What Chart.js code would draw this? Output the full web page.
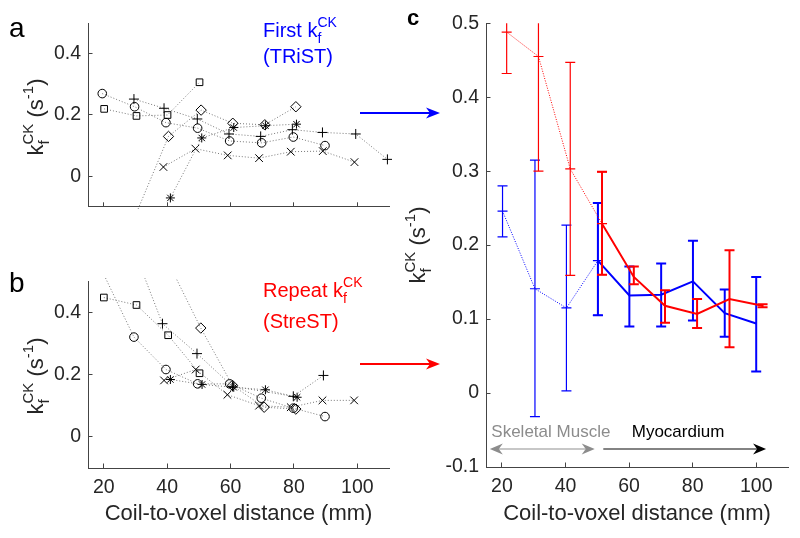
<!DOCTYPE html>
<html>
<head>
<meta charset="utf-8">
<script src="https://cdn.jsdelivr.net/npm/chart.js@4.4.1/dist/chart.umd.min.js"></script>
<style>
  body { margin: 0; background: #fff; }
  #wrap { position: relative; width: 800px; height: 538px; overflow: hidden; font-family: "Liberation Sans", Arial, sans-serif; color: #262626; }
  .box { position: absolute; }
  .txt { position: absolute; white-space: nowrap; line-height: 1; }
  .ylab { position: absolute; white-space: nowrap; font-size: 22px; line-height: 1; transform: translate(-50%, -50%) rotate(-90deg); }
  .sb { font-size: 15px; position: relative; top: 6px; }
  .sp { font-size: 15px; position: relative; top: -10px; margin-left: -4.2px; }
  .sp2 { font-size: 15px; position: relative; top: -10px; }
</style>
</head>
<body>
<div id="wrap">
  <div class="box" style="left:0;top:0;width:400px;height:230px"><canvas id="ca" width="400" height="230"></canvas></div>
  <div class="box" style="left:0;top:230px;width:400px;height:308px"><canvas id="cb" width="400" height="308"></canvas></div>
  <div class="box" style="left:400px;top:0;width:400px;height:538px"><canvas id="cc" width="400" height="538"></canvas></div>

  <svg class="box" style="left:0;top:0" width="800" height="538">
    <line x1="360" y1="113" x2="430" y2="113" stroke="#0000ff" stroke-width="2"/>
    <path d="M440,113 L426,107.5 L430,113 L426,118.5 Z" fill="#0000ff"/>
    <line x1="360" y1="364" x2="430" y2="364" stroke="#ff0000" stroke-width="2"/>
    <path d="M440,364 L426,358.5 L430,364 L426,369.5 Z" fill="#ff0000"/>
  </svg>

  <div class="txt" style="left:9px;top:14px;font-size:28px;color:#000">a</div>
  <div class="txt" style="left:9px;top:269px;font-size:28px;color:#000">b</div>
  <div class="txt" style="left:407px;top:7px;font-size:22px;font-weight:bold;color:#000">c</div>

  <div class="ylab" style="left:36px;top:117px">k<span class="sb">f</span><span class="sp">CK</span> (s<span class="sp2">-1</span>)</div>
  <div class="ylab" style="left:36px;top:376px">k<span class="sb">f</span><span class="sp">CK</span> (s<span class="sp2">-1</span>)</div>
  <div class="ylab" style="left:418px;top:245px">k<span class="sb">f</span><span class="sp">CK</span> (s<span class="sp2">-1</span>)</div>

  <div class="txt" style="left:263px;top:20px;font-size:20px;color:#0000ff">First k<span class="sb" style="font-size:14px">f</span><span class="sp" style="font-size:14px;margin-left:-3.9px">CK</span></div>
  <div class="txt" style="left:263px;top:45.5px;font-size:20px;color:#0000ff">(TRiST)</div>
  <div class="txt" style="left:263px;top:280px;font-size:20px;color:#ff0000">Repeat k<span class="sb" style="font-size:14px">f</span><span class="sp" style="font-size:14px;margin-left:-3.9px">CK</span></div>
  <div class="txt" style="left:263px;top:311px;font-size:20px;color:#ff0000">(StreST)</div>
</div>

<script>
const FONT = '"Liberation Sans", Arial, Helvetica, sans-serif';

// shared ticks
const xTicks = [20, 40, 60, 80, 100];
const yTicksAB = [0, 0.2, 0.4];
const yTicksC = [-0.1, 0, 0.1, 0.2, 0.3, 0.4, 0.5];

// panel a - first kf (TRiST), one series per subject
const aCircleX = [19.5, 29.7, 39.6, 49.6, 59.7, 69.8, 79.8, 89.8];
const aCircleY = [0.27, 0.227, 0.175, 0.157, 0.115, 0.109, 0.128, 0.10];
const aSquareX = [20.1, 30.3, 40.1, 50.2];
const aSquareY = [0.22, 0.197, 0.2, 0.307];
const aPlusX = [29.5, 39, 49.5, 59.5, 69.5, 79.5, 89, 99.5, 109.5];
const aPlusY = [0.252, 0.222, 0.187, 0.138, 0.13, 0.152, 0.143, 0.138, 0.055];
const aDiamondX = [20.6, 40.4, 50.7, 60.7, 70.8, 80.6];
const aDiamondY = [-0.36, 0.13, 0.216, 0.173, 0.168, 0.227];
const aStarX = [41, 50.9, 61, 71, 80.8];
const aStarY = [-0.071, 0.125, 0.159, 0.165, 0.17];
const aCrossX = [38.8, 48.9, 59.1, 69, 79, 89.1, 99.1];
const aCrossY = [0.03, 0.09, 0.068, 0.059, 0.08, 0.082, 0.046];

// panel b - repeat kf (StreST)
const bCircleX = [19.7, 29.5, 39.6, 49.6, 59.7, 69.7, 79.8, 89.8];
const bCircleY = [0.527, 0.32, 0.216, 0.17, 0.17, 0.124, 0.092, 0.065];
const bSquareX = [20, 30.3, 40.3, 50.2];
const bSquareY = [0.447, 0.423, 0.326, 0.204];
const bPlusX = [29.5, 38.5, 49.4, 60.6, 79.8, 89.3];
const bPlusY = [0.6, 0.363, 0.267, 0.162, 0.13, 0.197];
const bDiamondX = [40.5, 50.6, 60.6, 70.6, 80.6];
const bDiamondY = [0.556, 0.349, 0.165, 0.095, 0.089];
const bStarX = [41, 51, 61, 71, 81];
const bStarY = [0.184, 0.168, 0.159, 0.151, 0.127];
const bCrossX = [39, 49, 59, 69, 79, 89, 99];
const bCrossY = [0.181, 0.216, 0.135, 0.1, 0.095, 0.117, 0.117];

// panel c - group mean with error bars
const blueX = [20.2, 30.4, 40.3, 50.2, 60.1, 70.1, 80.1, 90.1, 100];
const blueY = [0.246, 0.141, 0.115, 0.179, 0.132, 0.133, 0.151, 0.108, 0.094];
const blueLo = [0.211, -0.032, 0.003, 0.105, 0.09, 0.09, 0.098, 0.076, 0.029];
const blueHi = [0.28, 0.315, 0.227, 0.257, 0.171, 0.175, 0.206, 0.14, 0.157];
const redX = [21.5, 31.5, 41.5, 51.5, 61.5, 71.3, 81.4, 91.6, 102];
const redY = [0.488, 0.455, 0.303, 0.229, 0.157, 0.118, 0.107, 0.127, 0.118];
const redLo = [0.432, 0.300, 0.159, 0.16, 0.147, 0.095, 0.088, 0.062, 0.116];
const redHi = [0.544, 0.61, 0.447, 0.299, 0.171, 0.139, 0.127, 0.193, 0.120];

function pts(xs, ys) {
    return xs.map((x, i) => ({ x: x, y: ys[i] }));
}

// one subject: black hollow markers joined by a grey dotted line
function subject(xs, ys, style, r) {
    return {
        data: pts(xs, ys),
        showLine: true,
        borderColor: '#777',
        borderWidth: 1,
        borderDash: [1, 2],
        pointStyle: style,
        pointRadius: r,
        pointBorderColor: '#000',
        pointBackgroundColor: 'rgba(0,0,0,0)',
        pointBorderWidth: 1,
        clip: 3
    };
}

function xAxis(labels, h) {
    return {
        type: 'linear', min: 15, max: 110,
        afterBuildTicks: s => { s.ticks = xTicks.map(v => ({ value: v })); },
        afterFit: s => { s.height = h; },
        grid: { drawOnChartArea: false, color: '#444', tickLength: -4.5 },
        border: { color: '#444' },
        ticks: { display: labels, color: '#262626', font: { family: FONT, size: 19.5 }, padding: 12, maxRotation: 0, autoSkip: false },
        title: { display: labels, text: 'Coil-to-voxel distance (mm)', color: '#262626', font: { family: FONT, size: 22 }, padding: { top: 0, bottom: 11 } }
    };
}

function yAxis(min, max, ticks, w) {
    return {
        type: 'linear', min: min, max: max,
        afterBuildTicks: s => { s.ticks = ticks.map(v => ({ value: v })); },
        afterFit: s => { s.width = w; },
        grid: { drawOnChartArea: false, color: '#444', tickLength: -4.5 },
        border: { color: '#444' },
        ticks: { color: '#262626', font: { family: FONT, size: 19.5 }, padding: 11.5,
                 callback: v => String(Math.round(v * 10) / 10) }
    };
}

// vertical error bars with caps, drawn right after their own line
const errorBars = {
    id: 'errorBars',
    afterDatasetDraw(chart, args) {
        const ds = chart.data.datasets[args.index];
        if (!ds.errLo) return;
        const xs = chart.scales.x, ys = chart.scales.y, ctx = chart.ctx, a = chart.chartArea;
        ctx.save();
        ctx.beginPath();
        ctx.rect(a.left, a.top, a.right - a.left, a.bottom - a.top);
        ctx.clip();
        ctx.strokeStyle = ds.borderColor;
        ctx.lineWidth = ds.errWidth;
        ctx.setLineDash([]);
        ds.data.forEach((p, i) => {
            const px = xs.getPixelForValue(p.x);
            const lo = ys.getPixelForValue(ds.errLo[i]);
            const hi = ys.getPixelForValue(ds.errHi[i]);
            ctx.beginPath();
            ctx.moveTo(px, lo); ctx.lineTo(px, hi);
            ctx.moveTo(px - 5, lo); ctx.lineTo(px + 5, lo);
            ctx.moveTo(px - 5, hi); ctx.lineTo(px + 5, hi);
            ctx.stroke();
        });
        ctx.restore();
    }
};

function arrowHead(ctx, x, y, dir, color) {
    ctx.fillStyle = color;
    ctx.beginPath();
    ctx.moveTo(x, y);
    ctx.lineTo(x - dir * 13, y - 5.5);
    ctx.lineTo(x - dir * 9, y);
    ctx.lineTo(x - dir * 13, y + 5.5);
    ctx.closePath();
    ctx.fill();
}

// skeletal muscle / myocardium ranges under the curves
const regions = {
    id: 'regions',
    afterDraw(chart) {
        const xs = chart.scales.x, ys = chart.scales.y, ctx = chart.ctx;
        const yA = ys.getPixelForValue(-0.0755);
        const yT = ys.getPixelForValue(-0.059);
        ctx.save();
        ctx.font = '17px ' + FONT;
        ctx.textAlign = 'center';
        ctx.textBaseline = 'alphabetic';
        ctx.fillStyle = '#8c8c8c';
        ctx.fillText('Skeletal Muscle', xs.getPixelForValue(35.4), yT);
        ctx.fillStyle = '#000';
        ctx.fillText('Myocardium', xs.getPixelForValue(75.4), yT);

        let x1 = xs.getPixelForValue(16.2), x2 = xs.getPixelForValue(49.2);
        ctx.strokeStyle = '#b4b4b4';
        ctx.lineWidth = 1.5;
        ctx.beginPath(); ctx.moveTo(x1 + 9, yA); ctx.lineTo(x2 - 9, yA); ctx.stroke();
        arrowHead(ctx, x1, yA, -1, '#8c8c8c');
        arrowHead(ctx, x2, yA, 1, '#8c8c8c');

        x1 = xs.getPixelForValue(51.9); x2 = xs.getPixelForValue(103.1);
        ctx.strokeStyle = '#5a5a5a';
        ctx.beginPath(); ctx.moveTo(x1, yA); ctx.lineTo(x2 - 9, yA); ctx.stroke();
        arrowHead(ctx, x2, yA, 1, '#000');
        ctx.restore();
    }
};

Chart.defaults.font.family = FONT;
Chart.defaults.color = '#262626';

const common = {
    responsive: false,
    animation: false,
    events: [],
    plugins: { legend: { display: false }, tooltip: { enabled: false } }
};

new Chart(document.getElementById('ca'), {
    type: 'scatter',
    data: { datasets: [
        subject(aCircleX, aCircleY, 'circle', 4.3),
        subject(aSquareX, aSquareY, 'rect', 4.7),
        subject(aPlusX, aPlusY, 'cross', 5),
        subject(aDiamondX, aDiamondY, 'rectRot', 5.2),
        subject(aStarX, aStarY, 'star', 4.5),
        subject(aCrossX, aCrossY, 'crossRot', 5.4)
    ] },
    options: Object.assign({}, common, {
        layout: { padding: { left: 0, top: 22, right: 11, bottom: 0 } },
        scales: { x: xAxis(false, 22), y: yAxis(-0.1, 0.5, yTicksAB, 88) }
    })
});

new Chart(document.getElementById('cb'), {
    type: 'scatter',
    data: { datasets: [
        subject(bCircleX, bCircleY, 'circle', 4.3),
        subject(bSquareX, bSquareY, 'rect', 4.7),
        subject(bPlusX, bPlusY, 'cross', 5),
        subject(bDiamondX, bDiamondY, 'rectRot', 5.2),
        subject(bStarX, bStarY, 'star', 4.5),
        subject(bCrossX, bCrossY, 'crossRot', 5.4)
    ] },
    options: Object.assign({}, common, {
        layout: { padding: { left: 0, top: 51, right: 11, bottom: 0 } },
        scales: { x: xAxis(true, 70), y: yAxis(-0.1, 0.5, yTicksAB, 88) }
    })
});

function meanSeries(xs, ys, lo, hi, from, to, color, dotted) {
    return {
        data: pts(xs.slice(from, to), ys.slice(from, to)),
        errLo: lo.slice(from, to),
        errHi: hi.slice(from, to),
        errWidth: dotted ? 1.2 : 2,
        showLine: true,
        borderColor: color,
        borderWidth: dotted ? 1 : 2,
        borderDash: dotted ? [1, 1.5] : [],
        pointStyle: 'line',
        pointRadius: dotted ? 5 : 0,
        pointBorderColor: color,
        pointBorderWidth: 1.2,
        clip: 3
    };
}

new Chart(document.getElementById('cc'), {
    type: 'scatter',
    data: { datasets: [
        meanSeries(redX, redY, redLo, redHi, 3, 9, '#ff0000', false),
        meanSeries(redX, redY, redLo, redHi, 0, 4, '#ff0000', true),
        meanSeries(blueX, blueY, blueLo, blueHi, 3, 9, '#0000ff', false),
        meanSeries(blueX, blueY, blueLo, blueHi, 0, 4, '#0000ff', true)
    ] },
    options: Object.assign({}, common, {
        layout: { padding: { left: 0, top: 21, right: 12, bottom: 0 } },
        scales: { x: xAxis(true, 71), y: yAxis(-0.1, 0.5, yTicksC, 86) }
    }),
    plugins: [errorBars, regions]
});
</script>
</body>
</html>
